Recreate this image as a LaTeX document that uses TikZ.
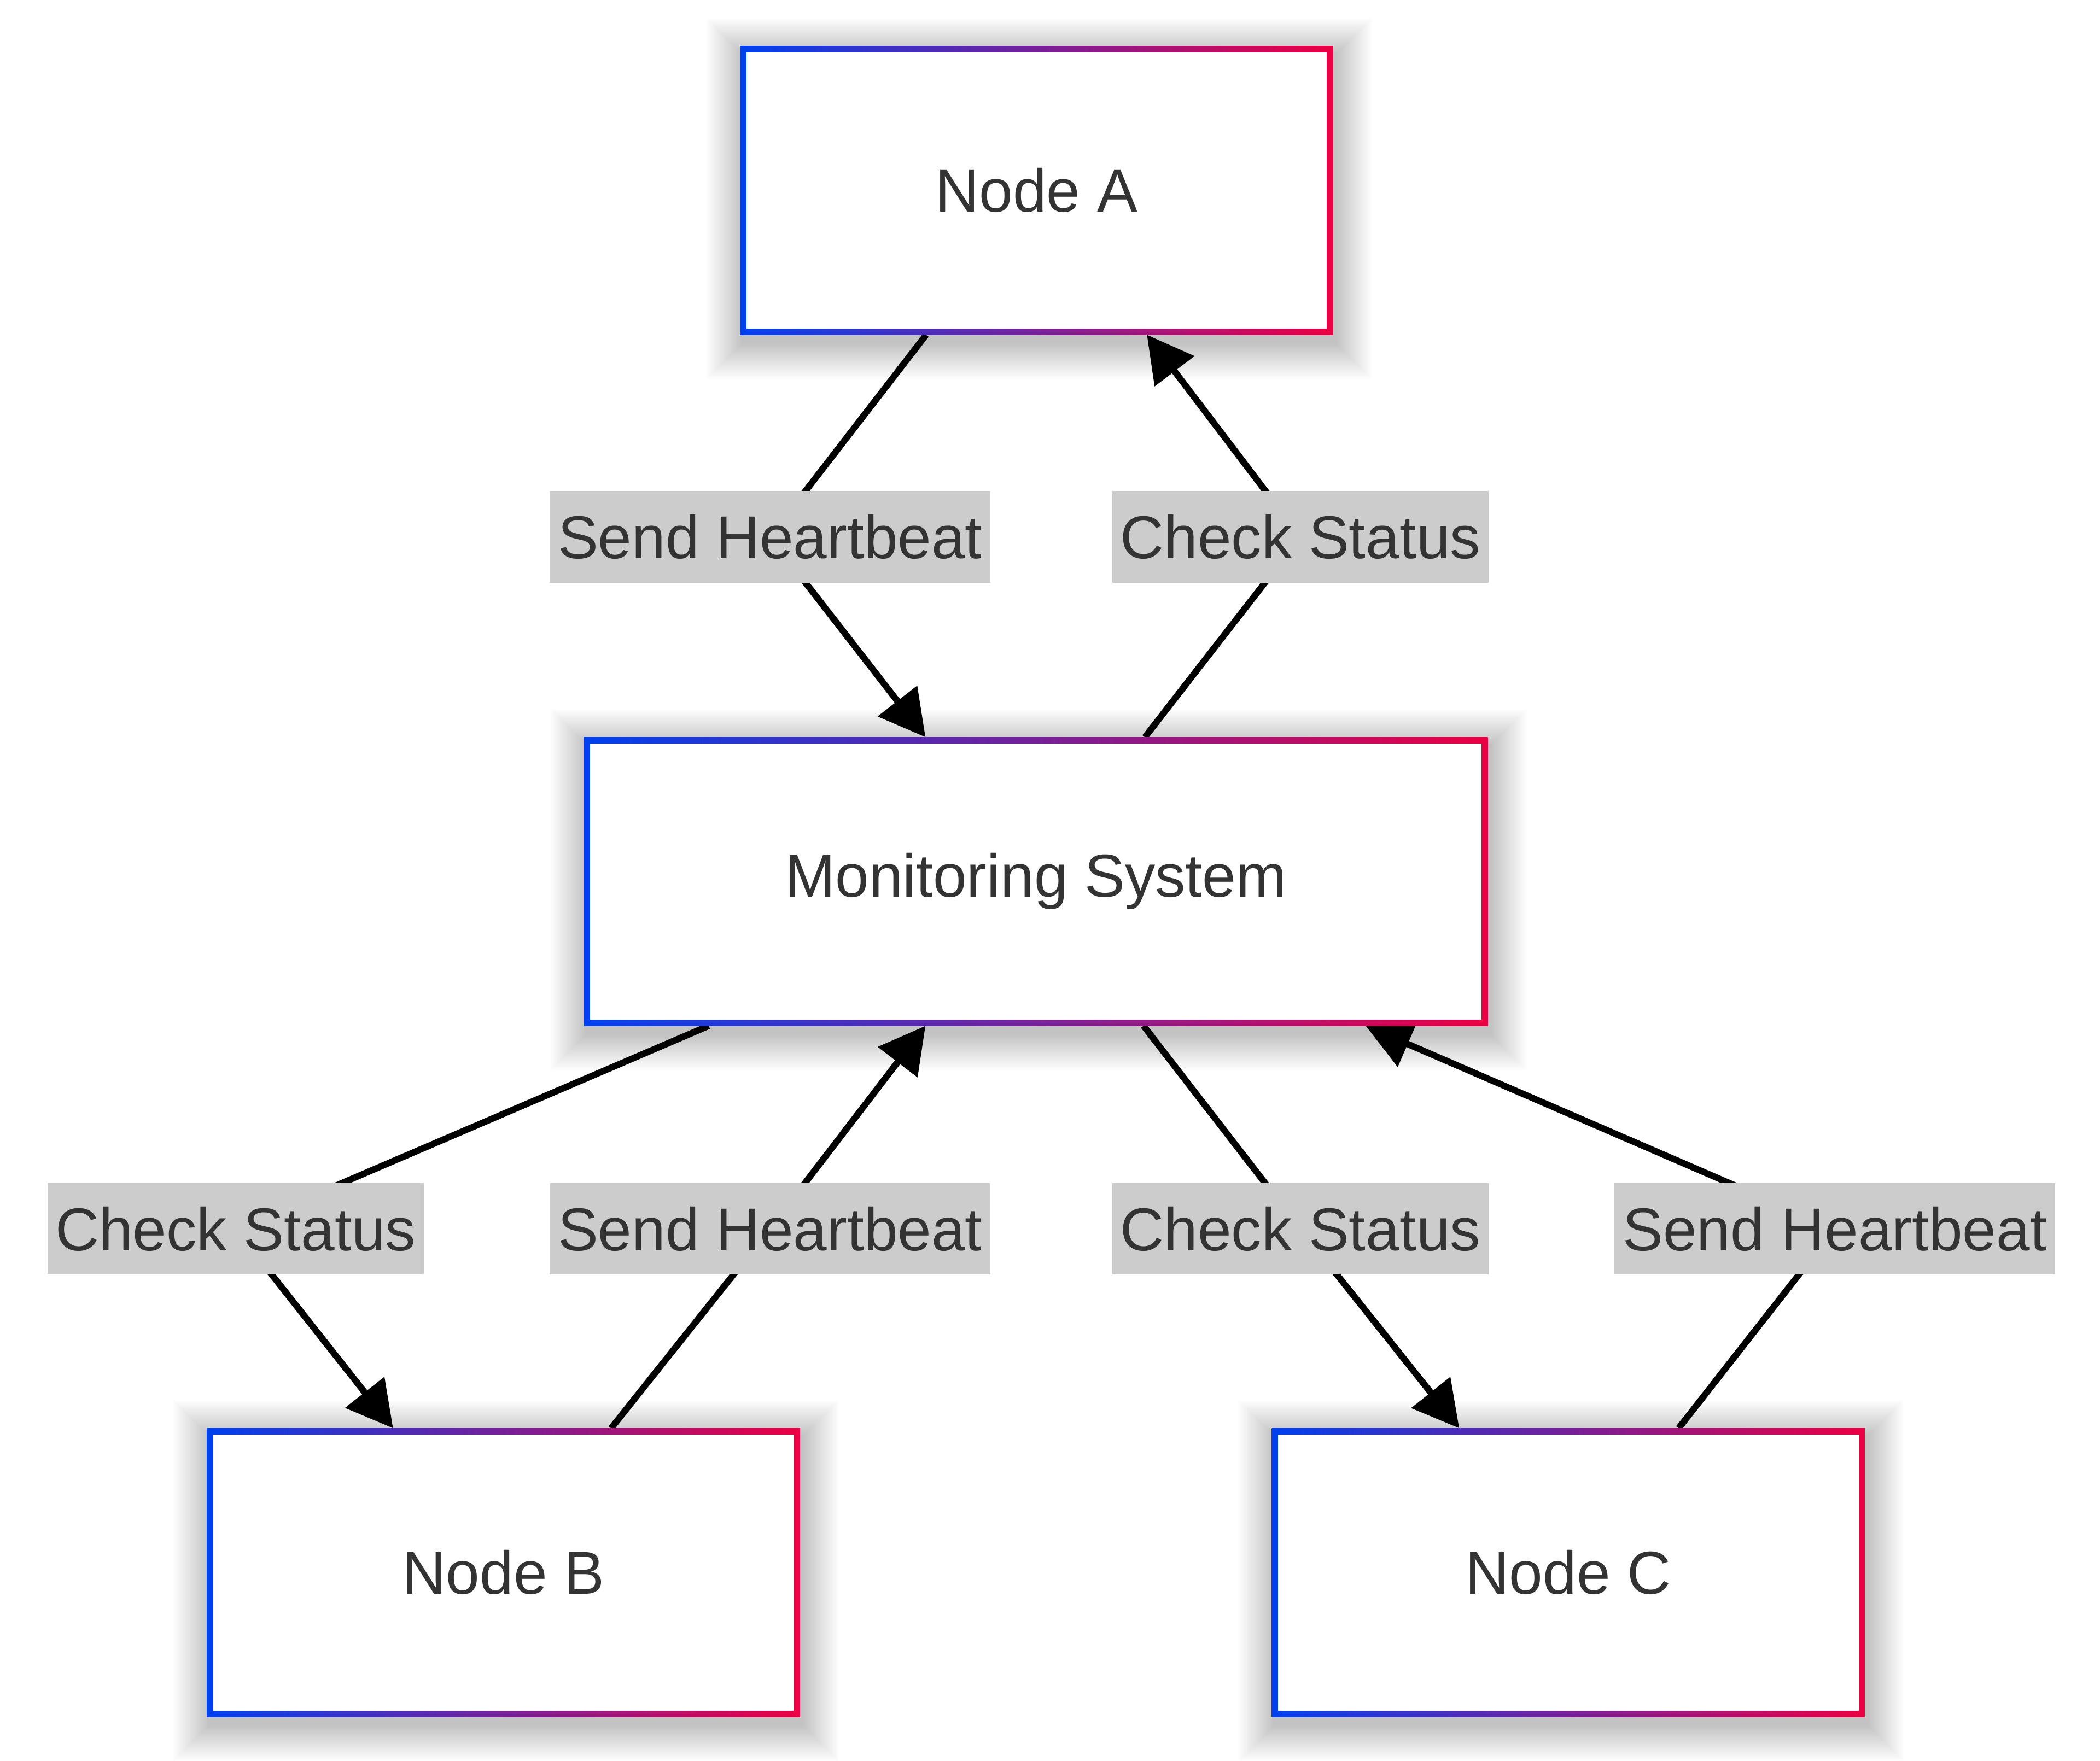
\documentclass[tikz,border=0pt]{standalone}
\usepackage{fontspec}
\setmainfont{Liberation Sans}
\usepackage{xcolor}
\usetikzlibrary{calc}
\usetikzlibrary{arrows.meta}
\definecolor{bluec}{RGB}{0,64,238}
\definecolor{redc}{RGB}{235,0,67}
\definecolor{txtc}{RGB}{51,51,51}
\definecolor{lblc}{RGB}{204,204,204}
\pgfdeclarelayer{shadow}
\pgfdeclarelayer{edges}
\pgfsetlayers{shadow,edges,main}
\tikzset{
  box/.style={rectangle, minimum width=#1, minimum height=107.25pt,
    inner sep=0pt, outer sep=0pt, left color=bluec, right color=redc,
    path picture={\fill[white] ([shift={(2.3pt,2.3pt)}]path picture bounding box.south west)
      rectangle ([shift={(-2.3pt,-2.3pt)}]path picture bounding box.north east);},
    text=txtc, font=\fontsize{22.5}{27}\selectfont},
  lbl/.style={rectangle, fill=lblc, text=txtc, inner xsep=3pt, inner ysep=0pt,
    minimum height=34pt, outer sep=0pt, font=\fontsize{22.5}{27}\selectfont},
  edge/.style={line width=2.4pt, -{Triangle[length=17pt,width=18pt]}}
}

\begin{document}
\begin{tikzpicture}[x=0.5pt,y=-0.5pt]
\useasboundingbox (0,0) rectangle (1560,1308.5);
% boxes
\node[box=220.25pt] (A) at (770,141.5) {Node A};
\node[box=335.75pt] (M) at (769.5,655) {Monitoring System};
\node[box=220.25pt] (B) at (374,1168.5) {Node B};
\node[box=220.25pt] (C) at (1165,1168.5) {Node C};
% soft shadows
\begin{pgfonlayer}{shadow}
\foreach \n in {A,M,B,C}
\foreach \i in {1,...,30}
\fill[black,opacity=0.006] ($(\n.north west)+(2-0.9*\i,6-0.9*\i)$) rectangle ($(\n.south east)+(2+0.9*\i,6+0.9*\i)$);
\end{pgfonlayer}
% labels
\foreach \n/\pos/\txt in {lblAM/{572,399}/Send Heartbeat, lblMA/{966,399}/Check Status,
  lblMB/{175,913}/Check Status, lblBM/{572,913}/Send Heartbeat,
  lblMC/{966,913}/Check Status, lblCM/{1363,913}/Send Heartbeat}
\node[lbl] (\n) at (\pos) {\txt};
% connectors
\begin{pgfonlayer}{edges}
\foreach \s/\sx/\l/\t/\tx in {A.south/-82/lblAM/M.north/-82, M.north/81/lblMA/A.south/82,
  M.south/-243/lblMB/B.north/-82, B.north/80/lblBM/M.south/-82,
  M.south/80/lblMC/C.north/-81, C.north/82/lblCM/M.south/245}
\draw[edge] ($(\s)+(\sx,0)$) -- (\l.center) -- ($(\t)+(\tx,0)$);
\end{pgfonlayer}
\end{tikzpicture}
\end{document}
